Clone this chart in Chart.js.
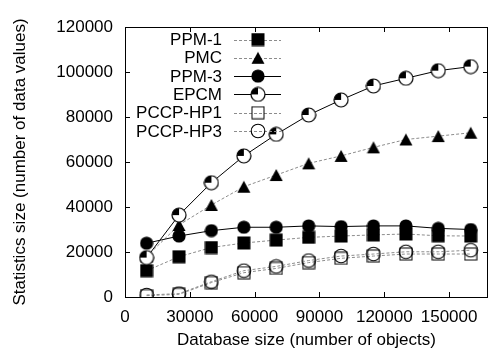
<!DOCTYPE html>
<html>
<head>
<meta charset="utf-8">
<script src="https://cdn.jsdelivr.net/npm/chart.js@4.4.1/dist/chart.umd.min.js"></script>
<style>
  html, body { margin: 0; padding: 0; background: #fff; }
</style>
</head>
<body>
<canvas id="statsChart" width="496" height="353"></canvas>
<script>
// data
const dbSize = [10000, 25000, 40000, 55000, 70000, 85000, 100000, 115000, 130000, 145000, 160000];
const ppm1 = [11700, 17900, 22000, 24000, 25300, 26500, 27100, 27600, 28000, 27200, 27100];
const pmc = [18000, 32000, 40900, 49000, 54200, 59400, 62700, 66500, 70000, 71500, 73000];
const ppm3 = [23900, 27100, 29500, 31000, 31000, 31600, 31300, 31600, 31600, 30500, 30000];
const epcm = [17500, 36400, 50800, 62700, 72300, 80900, 87600, 93800, 97200, 100600, 102400];
const pccpHp1 = [600, 1200, 6400, 10800, 12700, 15300, 17200, 18200, 19100, 19100, 19100];
const pccpHp3 = [900, 1500, 6800, 11700, 13600, 16200, 18200, 19100, 20100, 20100, 20800];
const seriesNames = ['PPM-1', 'PMC', 'PPM-3', 'EPCM', 'PCCP-HP1', 'PCCP-HP3'];
const yTicks = [0, 20000, 40000, 60000, 80000, 100000, 120000];
const xTicks = [0, 30000, 60000, 90000, 120000, 150000];

const FONT = '"Liberation Sans", Arial, sans-serif';

// small canvases used as point markers
function marker(size, draw) {
    const c = document.createElement('canvas');
    c.width = size; c.height = size;
    const g = c.getContext('2d');
    draw(g, size / 2);
    return c;
}
const mSquare = marker(14, (g, h) => { g.fillStyle = '#000'; g.fillRect(0.5, 0.5, 13, 13); });
const mTri = marker(14, (g, h) => {
    g.fillStyle = '#000'; g.beginPath();
    g.moveTo(h, 1); g.lineTo(13.5, 13); g.lineTo(0.5, 13); g.closePath(); g.fill();
});
const mDot = marker(14, (g, h) => { g.fillStyle = '#000'; g.beginPath(); g.arc(h, h, 6.6, 0, Math.PI * 2); g.fill(); });
const mHalf = marker(16, (g, h) => {
    g.fillStyle = '#fff'; g.beginPath(); g.arc(h, h, 7, 0, Math.PI * 2); g.fill();
    g.fillStyle = '#000'; g.beginPath(); g.moveTo(h, h); g.arc(h, h, 7, Math.PI, Math.PI * 1.5); g.closePath(); g.fill();
    g.strokeStyle = '#000'; g.lineWidth = 1.2; g.beginPath(); g.arc(h, h, 7, 0, Math.PI * 2); g.stroke();
});
const mBox = marker(14, (g, h) => { g.strokeStyle = '#000'; g.lineWidth = 1; g.strokeRect(1, 1, 12, 12); });
const mRing = marker(16, (g, h) => { g.strokeStyle = '#000'; g.lineWidth = 1.1; g.beginPath(); g.arc(h, h, 6.8, 0, Math.PI * 2); g.stroke(); });

const markers = [mSquare, mTri, mDot, mHalf, mBox, mRing];
const values = [ppm1, pmc, ppm3, epcm, pccpHp1, pccpHp3];
const solid = [false, false, true, true, false, false];

const datasets = seriesNames.map((name, i) => ({
    label: name,
    data: dbSize.map((x, k) => ({ x: x, y: values[i][k] })),
    borderColor: solid[i] ? '#000' : '#8c8c8c',
    borderWidth: 1,
    borderDash: solid[i] ? [] : [3, 2],
    pointStyle: markers[i],
    pointRadius: 7,
    pointHoverRadius: 7,
    fill: false,
    tension: 0,
    order: 5 - i
}));

// gnuplot-like frame, inward ticks and key
const framePlugin = {
    id: 'frame',
    afterDraw(chart) {
        const { ctx, chartArea: a, scales } = chart;
        ctx.save();
        ctx.strokeStyle = '#000';
        ctx.lineWidth = 1;
        ctx.strokeRect(Math.round(a.left) + 0.5, Math.round(a.top) + 0.5,
            Math.round(a.right - a.left) - 1, Math.round(a.bottom - a.top));
        ctx.beginPath();
        xTicks.forEach(v => {
            const px = Math.round(scales.x.getPixelForValue(v)) + 0.5;
            ctx.moveTo(px, a.bottom); ctx.lineTo(px, a.bottom - 5);
            ctx.moveTo(px, a.top); ctx.lineTo(px, a.top + 5);
        });
        yTicks.forEach(v => {
            const py = Math.round(scales.y.getPixelForValue(v)) + 0.5;
            ctx.moveTo(a.left, py); ctx.lineTo(a.left + 5, py);
            ctx.moveTo(a.right, py); ctx.lineTo(a.right - 5, py);
        });
        ctx.stroke();

        // key
        ctx.font = '17px ' + FONT;
        ctx.textAlign = 'right';
        ctx.textBaseline = 'middle';
        chart.data.datasets.forEach((ds, i) => {
            const y = 39.5 + i * 18.3;
            ctx.fillStyle = '#000';
            ctx.fillText(ds.label, 222, y + 1);
            ctx.strokeStyle = ds.borderColor;
            ctx.setLineDash(ds.borderDash);
            ctx.beginPath();
            ctx.moveTo(234, Math.round(y) + 0.5); ctx.lineTo(281, Math.round(y) + 0.5);
            ctx.stroke();
            ctx.setLineDash([]);
            const m = ds.pointStyle;
            ctx.drawImage(m, 258 - m.width / 2, y - m.height / 2);
        });
        ctx.restore();
    }
};

const ctx = document.getElementById('statsChart').getContext('2d');
const statsChart = new Chart(ctx, {
    type: 'line',
    data: { datasets: datasets },
    options: {
        responsive: false,
        devicePixelRatio: 1,
        animation: false,
        layout: { padding: { top: 27, right: 3, left: 0, bottom: 0 } },
        plugins: { legend: { display: false }, tooltip: { enabled: false } },
        scales: {
            x: {
                type: 'linear',
                min: 0,
                max: 168000,
                afterBuildTicks: s => { s.ticks = xTicks.map(v => ({ value: v })); },
                afterFit: s => { s.height = 56; },
                grid: { display: false, drawTicks: false },
                border: { display: false },
                ticks: { color: '#000', font: { family: FONT, size: 17 }, padding: 10, maxRotation: 0, autoSkip: false,
                    callback: v => String(v) },
                title: { display: true, text: 'Database size (number of objects)', color: '#000',
                    font: { family: FONT, size: 17 }, padding: { top: 0, bottom: 2 } }
            },
            y: {
                min: 0,
                max: 120000,
                afterBuildTicks: s => { s.ticks = yTicks.map(v => ({ value: v })); },
                afterFit: s => { s.width = 125; },
                grid: { display: false, drawTicks: false },
                border: { display: false },
                ticks: { color: '#000', font: { family: FONT, size: 17 }, padding: 12,
                    callback: v => String(v) },
                title: { display: true, text: 'Statistics size (number of data values)', color: '#000',
                    font: { family: FONT, size: 17 }, padding: { top: 10, bottom: 0 } }
            }
        }
    },
    plugins: [framePlugin]
});
</script>
</body>
</html>
